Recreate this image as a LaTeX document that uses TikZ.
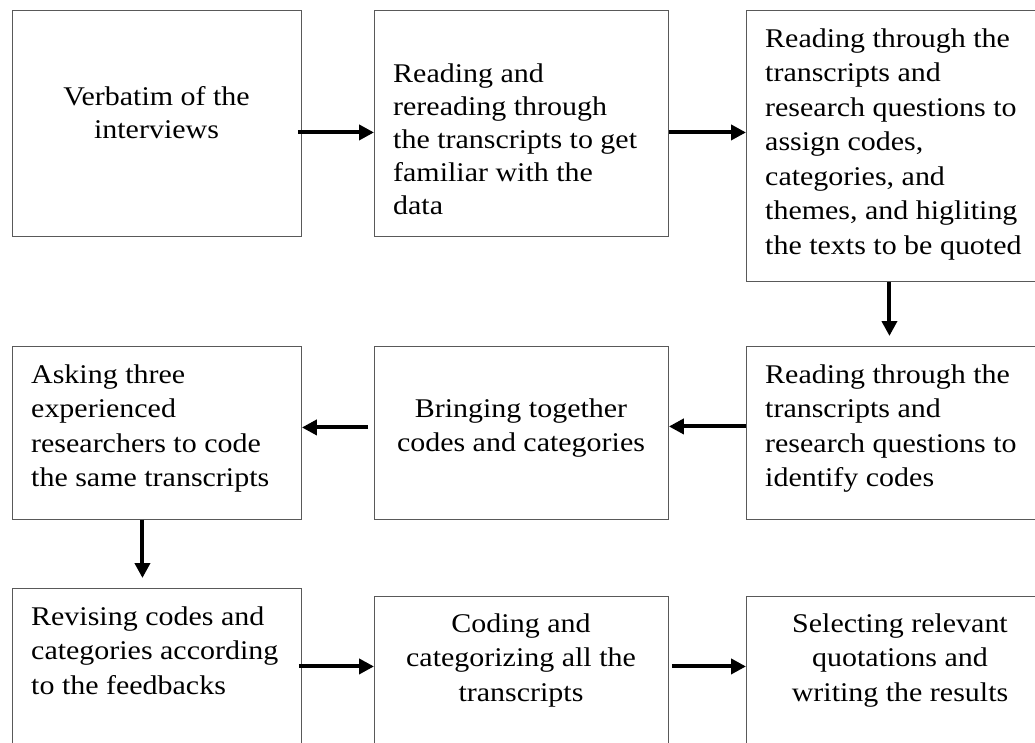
\documentclass[tikz,border=0pt]{standalone}
\usepackage{fontspec}
\setmainfont{Liberation Serif}[FakeStretch=1.11]
\usetikzlibrary{arrows.meta}
\definecolor{boxgray}{rgb}{0.35,0.35,0.35}

\begin{document}
\begin{tikzpicture}[x=1pt,y=-1pt,
  box/.style={draw=boxgray,line width=0.9pt,inner sep=0pt,anchor=north west},
  txt/.style={inner sep=0pt,align=left,anchor=north west,font=\fontsize{27pt}{34.5pt}\selectfont},
  tight/.style={font=\fontsize{27pt}{33pt}\selectfont},
  ctxt/.style={txt,align=center,anchor=north},
  flow/.style={line width=4pt,-{Triangle[length=15pt,width=15pt]}}]
\clip (0,0) rectangle (1035,743);
% boxes
\node[box,minimum width=289pt,minimum height=226pt] (1) at (12,10) {};
\node[box,minimum width=294pt,minimum height=226pt] (2) at (374,10) {};
\node[box,minimum width=308pt,minimum height=271pt] (3) at (746,10) {};
\node[box,minimum width=289pt,minimum height=173pt] (4) at (12,346) {};
\node[box,minimum width=294pt,minimum height=173pt] (5) at (374,346) {};
\node[box,minimum width=308pt,minimum height=173pt] (6) at (746,346) {};
\node[box,minimum width=289pt,minimum height=180pt] (7) at (12,588) {};
\node[box,minimum width=294pt,minimum height=172pt] (8) at (374,596) {};
\node[box,minimum width=308pt,minimum height=172pt] (9) at (746,596) {};
% texts
\node[ctxt,tight] (t1) at (156.5,86.5) {Verbatim of the\\interviews};
\node[txt,tight] (t2) at (393,63.5) {Reading and\\rereading through\\the transcripts to get\\familiar with the\\data};
\node[txt] (t3) at (765,28.5) {Reading through the\\transcripts and\\research questions to\\assign codes,\\categories, and\\themes, and higliting\\the texts to be quoted};
\node[txt] (t4) at (31,364.5) {Asking three\\experienced\\researchers to code\\the same transcripts};
\node[ctxt] (t5) at (521,398.5) {Bringing together\\codes and categories};
\node[txt] (t6) at (765,364.5) {Reading through the\\transcripts and\\research questions to\\identify codes};
\node[txt] (t7) at (31,606.5) {Revising codes and\\categories according\\to the feedbacks};
\node[ctxt] (t8) at (521,613.5) {Coding and\\categorizing all the\\transcripts};
\node[ctxt] (t9) at (900,613.5) {Selecting relevant\\quotations and\\writing the results};
% arrows
\draw[flow,shorten <=-4pt] ([yshift=-9pt]1.east) -- ([yshift=-9pt]2.west);
\draw[flow] ([yshift=-9pt]2.east) -- ([yshift=-9pt]2.east -| 3.west);
\draw[flow,shorten >=10pt] ([xshift=-11pt]3.south) -- ([xshift=-11pt]3.south |- 6.north);
\draw[flow] ([yshift=6.5pt]6.west) -- ([yshift=6.5pt]6.west -| 5.east);
\draw[flow,shorten <=6pt] ([yshift=5.5pt]5.west) -- ([yshift=5.5pt]5.west -| 4.east);
\draw[flow,shorten >=10pt] ([xshift=-14.5pt]4.south) -- ([xshift=-14.5pt]4.south |- 7.north);
\draw[flow,shorten <=-3pt] ([yshift=16pt]8.west -| 7.east) -- ([yshift=16pt]8.west);
\draw[flow,shorten <=3pt] ([yshift=16pt]8.east) -- ([yshift=16pt]9.west);
\end{tikzpicture}
\end{document}
